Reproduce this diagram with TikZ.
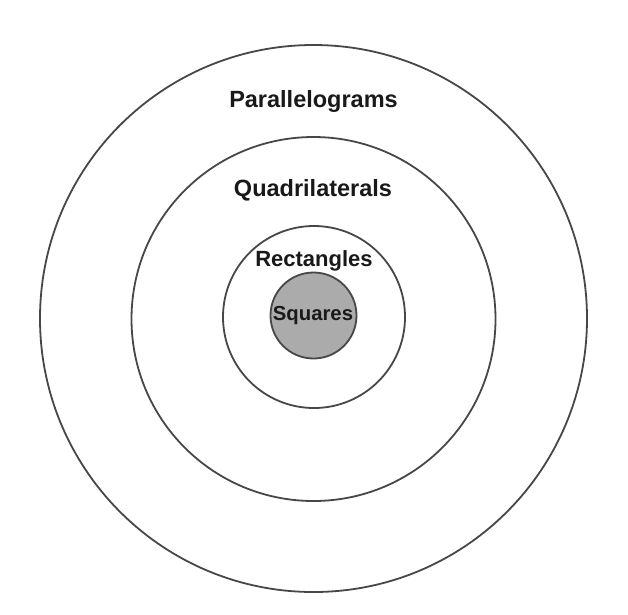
\documentclass[tikz,border=0pt]{standalone}
\usepackage{fontspec}
\setmainfont{Liberation Sans}
\begin{document}
\begin{tikzpicture}[x=1pt,y=-1pt,
  ring/.style={draw=black!72, line width=1.8pt},
  lbl/.style={anchor=base, inner sep=0pt, font=\bfseries, text=black!90}]
\useasboundingbox (0,0) rectangle (628,614);
\fill[white] (0,0) rectangle (628,614);
\coordinate (c) at (313.5,318.5);
\draw[ring] (c) circle[radius=273.5];
\draw[ring] (313.5,319) circle[radius=182];
\draw[ring] (314,317) circle[radius=91];
\draw[ring, fill=black!33] (313.5,315.5) circle[radius=43];
\node[lbl, font=\fontsize{23.5}{26}\selectfont\bfseries] (par) at (313.5,107) {Parallelograms};
\node[lbl, font=\fontsize{23.5}{26}\selectfont\bfseries] (quad) at (313,196.7) {Quadrilaterals};
\node[lbl, font=\fontsize{22}{25}\selectfont\bfseries] (rect) at (314,266) {Rectangles};
\node[lbl, font=\fontsize{20.3}{23}\selectfont\bfseries] (sq) at (313,320) {Squares};
\end{tikzpicture}
\end{document}
